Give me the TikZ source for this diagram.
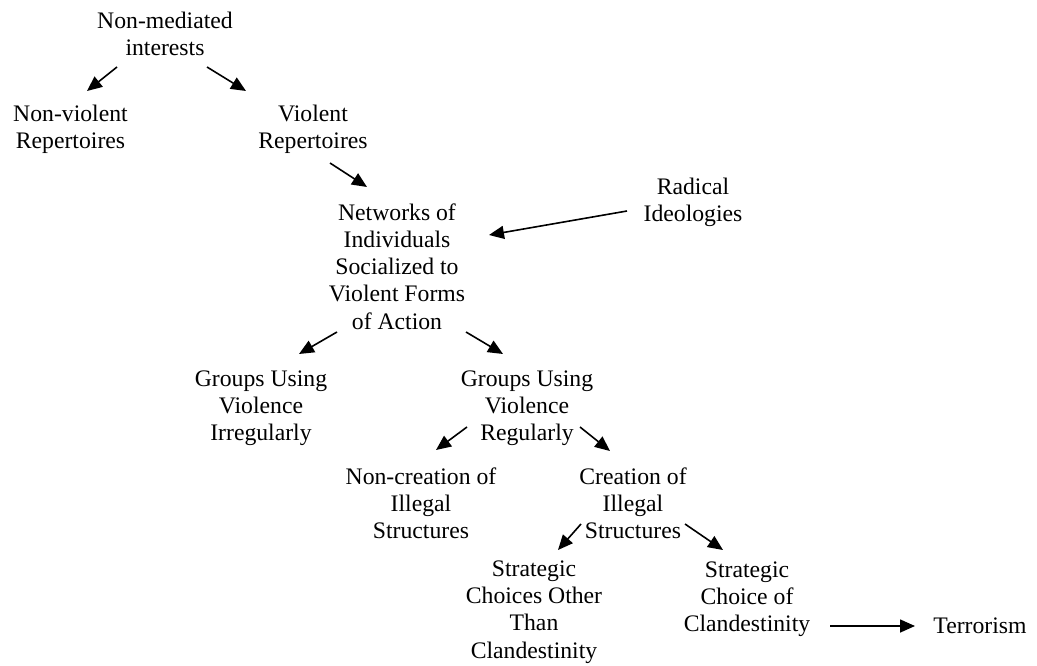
\documentclass[tikz,border=0pt]{standalone}
\usepackage{fontspec}
\setmainfont{Liberation Serif}
\usetikzlibrary{arrows.meta}
\tikzset{
  lbl/.style={align=center, inner sep=0pt, font=\fontsize{23.7}{27.2}\selectfont},
  arr/.style={line width=1.6pt, -{Triangle[length=15pt,width=13pt]}}
}
\begin{document}
\begin{tikzpicture}[x=1pt,y=-1pt]
\useasboundingbox (0,0) rectangle (1037,666);
\node[lbl] (nmi) at (165,33.5) {Non-mediated\\interests};
\node[lbl] (nv) at (70.5,129) {Non-violent\\Repertoires};
\node[lbl] (v) at (313,129) {Violent\\Repertoires};
\node[lbl] (net) at (397,266.5) {Networks of\\Individuals\\Socialized to\\Violent Forms\\of Action};
\node[lbl] (rad) at (693,202) {Radical\\Ideologies};
\node[lbl] (gi) at (261,408) {Groups Using\\Violence\\Irregularly};
\node[lbl] (gr) at (527,408) {Groups Using\\Violence\\Regularly};
\node[lbl] (nc) at (421,503) {Non-creation of\\Illegal\\Structures};
\node[lbl] (c) at (633,503) {Creation of\\Illegal\\Structures};
\node[lbl] (so) at (534,612) {Strategic\\Choices Other\\Than\\Clandestinity};
\node[lbl] (sc) at (747,599) {Strategic\\Choice of\\Clandestinity};
\node[lbl] (t) at (980,626) {Terrorism};
% connector ends
\coordinate (a1s) at (117,67);  \coordinate (a1e) at (87,91);
\coordinate (a2s) at (207,67);  \coordinate (a2e) at (246,91);
\coordinate (a3s) at (330,163); \coordinate (a3e) at (367,187);
\coordinate (a4s) at (627,211); \coordinate (a4e) at (489,235);
\coordinate (a5s) at (337,332); \coordinate (a5e) at (299,354);
\coordinate (a6s) at (466,332); \coordinate (a6e) at (503,354);
\coordinate (a7s) at (467,427); \coordinate (a7e) at (436,450);
\coordinate (a8s) at (580,427); \coordinate (a8e) at (610,451);
\coordinate (a9s) at (581,524); \coordinate (a9e) at (558,550);
\coordinate (a10s) at (685,524); \coordinate (a10e) at (723,550);
\coordinate (a11s) at (830,626); \coordinate (a11e) at (915,626);
\draw[arr] (a1s) -- (a1e);
\draw[arr] (a2s) -- (a2e);
\draw[arr] (a3s) -- (a3e);
\draw[arr] (a4s) -- (a4e);
\draw[arr] (a5s) -- (a5e);
\draw[arr] (a6s) -- (a6e);
\draw[arr] (a7s) -- (a7e);
\draw[arr] (a8s) -- (a8e);
\draw[arr] (a9s) -- (a9e);
\draw[arr] (a10s) -- (a10e);
\draw[arr] (a11s) -- (a11e);
\end{tikzpicture}
\end{document}
